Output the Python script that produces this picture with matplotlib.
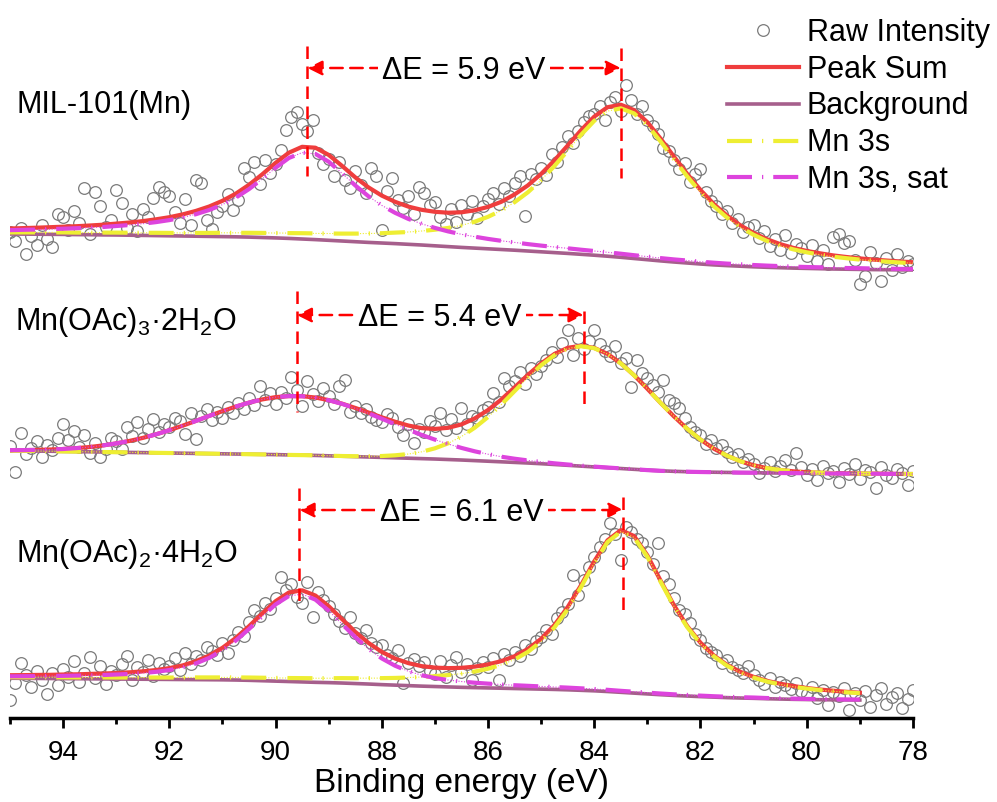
import numpy as np
import matplotlib.pyplot as plt

plt.rcParams['font.family'] = ['Liberation Sans', 'DejaVu Sans']
plt.rcParams['mathtext.fontset'] = 'custom'
plt.rcParams['mathtext.rm'] = 'Liberation Sans'

# Mn 3s region, scans recorded at 0.1 eV, fit envelopes exported at 0.25 eV
raw_energy = np.round(np.arange(95.0, 77.95, -0.1), 2)
fit_energy = np.round(np.arange(95.0, 77.95, -0.25), 2)

# ---- MIL-101(Mn) ----
mil_raw = [
    40, 31, 44, 18, 36, 27, 47, 33, 25, 58,
    55, 42, 61, 49, 84, 38, 80, 66, 45, 52,
    82, 69, 44, 58, 41, 63, 55, 74, 85, 80,
    76, 60, 49, 73, 47, 92, 89, 52, 43, 60,
    66, 78, 62, 72, 104, 95, 110, 88, 112, 99,
    108, 122, 142, 155, 160, 148, 141, 152, 119, 108,
    113, 96, 110, 92, 84, 101, 87, 79, 104, 96,
    42, 81, 94, 72, 64, 76, 58, 85, 79, 67,
    70, 55, 48, 63, 50, 67, 58, 71, 54, 66,
    73, 79, 68, 84, 76, 89, 96, 56, 98, 93,
    104, 97, 118, 110, 125, 136, 129, 141, 150, 156,
    158, 166, 152, 170, 175, 161, 187, 172, 158, 166,
    152, 146, 138, 124, 121, 112, 103, 109, 90, 98,
    103, 80, 71, 66, 58, 61, 49, 53, 40, 45,
    47, 34, 41, 26, 33, 22, 37, 19, 28, 24,
    16, 27, 11, 22, 8, 35, 38, 29, 31, 12,
    -12, -4, 20, 9, -9, 14, 2, 18, 5, 11, 8,
]
mil_bg = [
    38.0, 37.9, 37.8, 37.7, 37.6, 37.4, 37.3, 37.1, 37.0, 36.8, 36.6, 36.4,
    36.2, 36.0, 35.8, 35.6, 35.4, 35.2, 34.9, 34.5, 34.1, 33.6, 33.0, 32.4,
    31.7, 31.0, 30.3, 29.6, 29.0, 28.4, 27.7, 27.0, 26.2, 25.4, 24.6, 23.9,
    23.2, 22.5, 21.8, 21.0, 20.2, 19.4, 18.6, 17.7, 16.8, 15.8, 14.7, 13.5,
    12.3, 11.1, 10.0, 9.0, 8.0, 7.1, 6.4, 5.8, 5.2, 4.7, 4.3, 3.9,
    3.6, 3.3, 3.0, 2.8, 2.6, 2.4, 2.3, 2.1, 2.0,
]
mil_3s = [
    1.6, 1.7, 1.8, 1.9, 2.0, 2.0, 2.1, 2.3, 2.4, 2.5, 2.6, 2.8,
    2.9, 3.1, 3.3, 3.5, 3.8, 4.0, 4.3, 4.6, 4.9, 5.3, 5.8, 6.2,
    6.8, 7.4, 8.1, 8.9, 9.8, 11.0, 12.3, 14.0, 16.1, 18.7, 22.0, 26.4,
    32.0, 39.0, 48.0, 58.7, 71.7, 86.6, 102.8, 119.4, 134.4, 145.1, 149.0, 145.1,
    134.4, 119.4, 102.8, 86.6, 71.7, 58.7, 48.0, 39.0, 32.0, 26.4, 22.0, 18.7,
    16.1, 14.0, 12.3, 11.0, 9.8, 8.9, 8.1, 7.4, 6.8,
]
mil_sat = [
    3.9, 4.3, 4.7, 5.2, 5.7, 6.4, 7.1, 7.9, 9.0, 10.2, 11.7, 13.5,
    15.7, 18.5, 22.0, 26.4, 32.0, 39.1, 48.0, 58.6, 70.1, 80.4, 86.4, 85.7,
    78.6, 67.8, 56.3, 46.1, 37.6, 30.8, 25.4, 21.2, 17.9, 15.2, 13.1, 11.4,
    9.9, 8.7, 7.8, 6.9, 6.2, 5.6, 5.1, 4.6, 4.2, 3.9, 3.6, 3.3,
    3.1, 2.8, 2.6, 2.5, 2.3, 2.2, 2.0, 1.9, 1.8, 1.7, 1.6, 1.5,
    1.4, 1.4, 1.3, 1.2, 1.2, 1.1, 1.1, 1.0, 1.0,
]

# ---- Mn(OAc)3·2H2O ----
oac3_raw = [
    30, 4, 43, 22, 28, 35, 19, 31, 26, 38,
    52, 36, 45, 29, 41, 23, 33, 19, 27, 38,
    35, 27, 49, 40, 54, 38, 47, 57, 44, 52,
    49, 58, 55, 42, 63, 37, 60, 67, 56, 64,
    58, 69, 63, 73, 67, 78, 71, 90, 76, 83,
    72, 84, 78, 99, 86, 70, 95, 82, 75, 88,
    80, 72, 90, 96, 64, 70, 63, 67, 59, 56,
    54, 62, 58, 49, 41, 52, 33, 47, 44, 55,
    50, 63, 46, 57, 48, 68, 52, 60, 58, 66,
    69, 83, 74, 98, 90, 95, 104, 92, 108, 102,
    110, 116, 124, 119, 133, 146, 121, 138, 127, 135,
    146, 132, 125, 120, 130, 113, 118, 89, 116, 103,
    98, 91, 84, 96, 76, 73, 68, 58, 49, 44,
    41, 32, 36, 28, 31, 24, 19, 22, 14, 17,
    12, 3, 8, 14, 5, 10, 16, 6, 23, 9,
    1, 7, -4, 10, 3, 5, -6, 8, 2, 12,
    -3, 6, 4, -12, 9, 1, -2, 7, 3, -9, 5,
]
oac3_bg = [
    25.4, 25.2, 25.0, 24.8, 24.6, 24.4, 24.2, 24.0, 23.8, 23.6, 23.4, 23.2,
    23.0, 22.8, 22.6, 22.4, 22.2, 22.0, 21.8, 21.6, 21.4, 21.1, 20.9, 20.6,
    20.2, 19.8, 19.4, 19.0, 18.6, 18.2, 17.8, 17.4, 17.0, 16.5, 16.0, 15.4,
    14.8, 14.2, 13.6, 13.0, 12.3, 11.5, 10.7, 9.9, 9.1, 8.3, 7.5, 6.7,
    5.9, 5.2, 4.7, 4.3, 4.0, 3.8, 3.6, 3.4, 3.3, 3.1, 3.0, 2.9,
    2.8, 2.7, 2.6, 2.5, 2.4, 2.3, 2.2, 2.1, 2.0,
]
oac3_3s = [
    0.0, 0.0, 0.0, 0.0, 0.0, 0.0, 0.0, 0.0, 0.0, 0.0, 0.0, 0.0,
    0.0, 0.0, 0.0, 0.0, 0.0, 0.0, 0.0, 0.0, 0.0, 0.0, 0.0, 0.1,
    0.1, 0.2, 0.4, 0.8, 1.4, 2.5, 4.2, 6.8, 10.7, 16.2, 23.5, 32.9,
    44.2, 57.2, 71.3, 85.5, 98.5, 109.3, 116.7, 119.9, 118.7, 113.6, 105.1, 94.0,
    81.3, 67.9, 54.9, 42.9, 32.4, 23.6, 16.7, 11.4, 7.5, 4.8, 3.0, 1.8,
    1.0, 0.6, 0.3, 0.2, 0.1, 0.0, 0.0, 0.0, 0.0,
]
oac3_sat = [
    0.5, 0.7, 1.1, 1.7, 2.4, 3.5, 4.8, 6.6, 8.8, 11.5, 14.7, 18.5,
    22.8, 27.5, 32.5, 37.7, 42.7, 47.4, 51.6, 55.0, 57.5, 58.8, 58.9, 57.8,
    55.6, 52.4, 48.3, 43.7, 38.7, 33.6, 28.5, 23.7, 19.4, 15.5, 12.1, 9.3,
    7.0, 5.1, 3.7, 2.6, 1.8, 1.2, 0.8, 0.5, 0.3, 0.2, 0.1, 0.1,
    0.0, 0.0, 0.0, 0.0, 0.0, 0.0, 0.0, 0.0, 0.0, 0.0, 0.0, 0.0,
    0.0, 0.0, 0.0, 0.0, 0.0, 0.0, 0.0, 0.0, 0.0,
]

# ---- Mn(OAc)2·4H2O (fit stops at 79 eV) ----
oac2_raw = [
    2, 19, 39, 27, 15, 31, 22, 8, 29, 17,
    33, 25, 41, 20, 29, 45, 24, 36, 18, 31,
    27, 38, 46, 22, 35, 30, 42, 26, 39, 33,
    36, 44, 32, 49, 38, 46, 42, 55, 51, 47,
    59, 49, 62, 70, 66, 80, 92, 86, 99, 93,
    104, 125, 112, 118, 105, 99, 120, 85, 110, 102,
    96, 88, 81, 74, 85, 69, 64, 72, 59, 55,
    57, 47, 44, 52, 19, 39, 43, 36, 40, 31,
    28, 41, 25, 37, 45, 30, 38, 22, 34, 40,
    35, 44, 22, 48, 42, 50, 46, 57, 53, 61,
    65, 72, 68, 84, 90, 98, 127, 107, 122, 135,
    145, 155, 163, 179, 168, 142, 175, 170, 163, 159,
    150, 138, 159, 126, 118, 104, 92, 88, 79, 68,
    62, 54, 50, 47, 39, 42, 35, 32, 29, 36,
    27, 22, 18, 24, 15, 20, 17, 13, 19, 11,
    8, 15, 4, 12, -3, 10, 6, 14, -8, 9,
    2, 11, -5, 7, 14, -2, 5, 9, -6, 3, 12,
]
oac2_bg = [
    23.8, 23.7, 23.6, 23.5, 23.4, 23.3, 23.2, 23.1, 23.0, 22.9, 22.8, 22.7,
    22.6, 22.5, 22.4, 22.3, 22.2, 22.0, 21.7, 21.3, 20.9, 20.5, 20.1, 19.7,
    19.4, 19.0, 18.5, 18.0, 17.4, 16.9, 16.4, 15.9, 15.5, 15.1, 14.7, 14.4,
    14.1, 13.8, 13.5, 13.2, 12.9, 12.6, 12.2, 11.7, 11.2, 10.5, 9.7, 8.9,
    8.1, 7.3, 6.6, 6.0, 5.4, 4.9, 4.4, 4.0, 3.7, 3.3, 3.0, 2.7,
    2.5, 2.3, 2.2, 2.1, 2.0,
]
oac2_3s = [
    1.1, 1.1, 1.2, 1.2, 1.3, 1.3, 1.4, 1.5, 1.5, 1.6, 1.7, 1.8,
    1.9, 2.0, 2.2, 2.3, 2.4, 2.6, 2.8, 3.0, 3.2, 3.5, 3.8, 4.1,
    4.4, 4.9, 5.3, 5.9, 6.5, 7.2, 8.1, 9.1, 10.4, 11.9, 13.7, 16.1,
    19.2, 23.4, 29.0, 36.9, 47.6, 62.0, 80.5, 103.0, 127.7, 149.5, 160.7, 155.7,
    137.2, 112.8, 89.1, 68.9, 52.9, 40.8, 31.9, 25.4, 20.7, 17.2, 14.6, 12.6,
    10.9, 9.6, 8.5, 7.6, 6.8,
]
oac2_sat = [
    1.9, 2.1, 2.3, 2.5, 2.8, 3.1, 3.5, 3.9, 4.5, 5.2, 6.2, 7.5,
    9.4, 12.1, 16.2, 21.8, 29.6, 39.4, 51.3, 64.3, 76.7, 85.5, 87.8, 82.7,
    72.0, 59.1, 46.4, 35.2, 26.2, 19.4, 14.4, 10.9, 8.5, 6.9, 5.8, 4.9,
    4.3, 3.7, 3.3, 3.0, 2.7, 2.4, 2.2, 2.0, 1.8, 1.7, 1.5, 1.4,
    1.3, 1.2, 1.1, 1.1, 1.0, 0.9, 0.9, 0.8, 0.8, 0.7, 0.7, 0.7,
    0.6, 0.6, 0.6, 0.5, 0.5,
]

sample_names = ['MIL-101(Mn)',
                r'Mn(OAc)$_\mathregular{3}$·2H$_\mathregular{2}$O',
                r'Mn(OAc)$_\mathregular{2}$·4H$_\mathregular{2}$O']
sat_pos = [89.4, 89.6, 89.55]     # Mn 3s satellite centre (eV)
main_pos = [83.5, 84.2, 83.45]    # Mn 3s main line centre (eV)

spectra = [
    (mil_raw, mil_bg, mil_3s, mil_sat),
    (oac3_raw, oac3_bg, oac3_3s, oac3_sat),
    (oac2_raw, oac2_bg, oac2_3s, oac2_sat),
]

# layout of the stack and annotations (intensity units)
offsets = [446, 242, 16]
arrow_y = [650, 403, 208]
sat_marker = [(672, 542), (427, 306), (230, 111)]
main_marker = [(670, 540), (407, 311), (221, 106)]
name_xy = [(94.87, 605), (94.9, 388), (94.88, 156)]

c_raw = '#7a7a7a'
c_sum = '#ef3d3d'
c_bg = '#a65f8c'
c_3s = '#eeee33'
c_sat = '#dd44dd'
comp_dash = (0, (6, 2.4, 0.3, 2.4))

fig = plt.figure(figsize=(9.97, 8.02), dpi=100)
ax = fig.add_axes([0.010, 0.1047, 0.9057, 0.8953])

handles = None
for i, (raw, bg, p3s, psat) in enumerate(spectra):
    off = offsets[i]
    raw = np.array(raw, dtype=float)
    bg = np.array(bg)
    p3s = np.array(p3s)
    psat = np.array(psat)
    x = fit_energy[:len(bg)]
    total = bg + p3s + psat

    h_raw, = ax.plot(raw_energy, raw + off, 'o', ls='none', mfc='none',
                     mec=c_raw, ms=8.4, mew=0.9, zorder=2)
    h_sum, = ax.plot(x, total + off, color=c_sum, lw=3, zorder=3)
    h_bg, = ax.plot(x, bg + off, color=c_bg, lw=2.6, zorder=3)
    ax.plot(x, bg + p3s + off, color=c_3s, lw=0.8, ls=(0, (1, 1.5)), zorder=4)
    h_3s, = ax.plot(x, bg + p3s + off, color=c_3s, lw=3, ls=comp_dash, zorder=4)
    ax.plot(x, bg + psat + off, color=c_sat, lw=0.8, ls=(0, (1, 1.5)), zorder=5)
    h_sat, = ax.plot(x, bg + psat + off, color=c_sat, lw=3, ls=comp_dash, zorder=5)
    if handles is None:
        handles = [h_raw, h_sum, h_bg, h_3s, h_sat]

    # multiplet splitting marker
    s, m = sat_pos[i], main_pos[i]
    ax.plot([s, s], sat_marker[i], color='red', lw=1.8, ls=(0, (5, 3)), zorder=6)
    ax.plot([m, m], main_marker[i], color='red', lw=1.8, ls=(0, (5, 3)), zorder=6)
    ax.annotate('', xy=(m, arrow_y[i]), xytext=(s, arrow_y[i]),
                arrowprops=dict(arrowstyle='<|-|>', color='red', lw=1.8,
                                ls=(0, (5, 3)), shrinkA=0, shrinkB=0,
                                mutation_scale=22), zorder=6)
    ax.text((s + m) / 2, arrow_y[i] - 11, f'ΔE = {s - m:.1f} eV', fontsize=22,
            ha='center', va='baseline', zorder=7,
            bbox=dict(fc='white', ec='none', pad=3))
    ax.text(name_xy[i][0], name_xy[i][1], sample_names[i], fontsize=22,
            ha='left', va='baseline')

ax.set_xlim(95, 78)
ax.set_ylim(0, 718)
ax.set_xticks(np.arange(94, 77, -2))
ax.set_xticks(np.arange(95, 78, -2), minor=True)
ax.set_yticks([])
for side in ['left', 'right', 'top']:
    ax.spines[side].set_visible(False)
ax.spines['bottom'].set_linewidth(2.5)
ax.tick_params(axis='x', which='major', direction='out', length=7, width=2,
               labelsize=20, pad=9)
ax.tick_params(axis='x', which='minor', direction='out', length=4, width=2)
ax.set_xlabel('Binding energy (eV)', fontsize=24, labelpad=1)

ax.legend(handles, ['Raw Intensity', 'Peak Sum', 'Background', 'Mn 3s', 'Mn 3s, sat'],
          loc='upper left', bbox_to_anchor=(0.729, 0.978),
          bbox_transform=fig.transFigure, frameon=False, fontsize=22,
          borderpad=0, borderaxespad=0, handlelength=2.36, handletextpad=0.26,
          labelspacing=0.225, numpoints=1)

fig.savefig('out.png', dpi=100)
